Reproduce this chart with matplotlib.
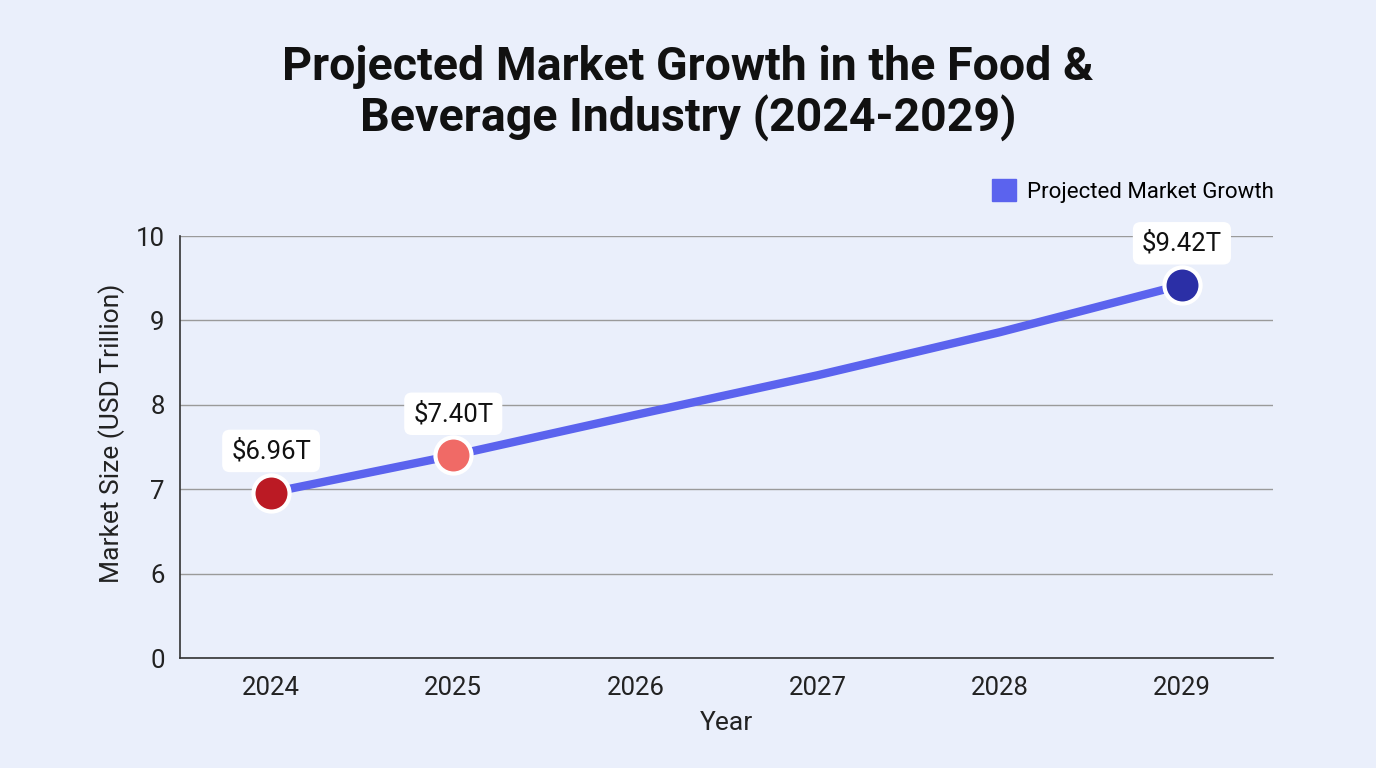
import matplotlib.pyplot as plt
import matplotlib.patches as mpatches

years = ['2024', '2025', '2026', '2027', '2028', '2029']
market_size = [6.96, 7.40, 7.88, 8.35, 8.86, 9.42]
labeled = {0: '$6.96T', 1: '$7.40T', 5: '$9.42T'}
marker_colors = {0: '#bb1a24', 1: '#f06a66', 5: '#2b2fa6'}
ytick_vals = [5, 6, 7, 8, 9, 10]
ytick_labels = ['0', '6', '7', '8', '9', '10']

plt.rcParams['font.family'] = ['Roboto', 'DejaVu Sans']

fig = plt.figure(figsize=(13.76, 7.68), dpi=100)
fig.patch.set_facecolor('#eaeffb')
ax = fig.add_axes([180 / 1376, 1 - 658 / 768, 1093 / 1376, 422 / 768])
ax.set_facecolor('#eaeffb')

x = list(range(len(years)))
ax.plot(x, market_size, color='#5b63ee', lw=6, solid_capstyle='round', zorder=3)
for i, lab in labeled.items():
    ax.plot(x[i], market_size[i], 'o', ms=26, mfc=marker_colors[i], mec='white', mew=3, zorder=4)
    ax.annotate(lab, (x[i], market_size[i]), xytext=(0, 30), textcoords='offset points',
                ha='center', va='center', fontsize=18.5, color='#111111', zorder=5,
                bbox=dict(boxstyle='round,pad=0.35,rounding_size=0.3', fc='white', ec='none'))

ax.set_xlim(-0.5, 5.5)
ax.set_ylim(5, 10)
ax.set_xticks(x)
ax.set_xticklabels(years, fontsize=18.5, color='#222222')
ax.set_yticks(ytick_vals)
ax.set_yticklabels(ytick_labels, fontsize=18.5, color='#222222')
ax.tick_params(axis='x', length=0, pad=13)
ax.tick_params(axis='y', length=0, pad=11)
ax.grid(axis='y', color='#9a9a9a', lw=1)
ax.set_axisbelow(True)
for s in ['top', 'right']:
    ax.spines[s].set_visible(False)
for s in ['left', 'bottom']:
    ax.spines[s].set_color('#333333')
    ax.spines[s].set_linewidth(1.2)

ax.set_xlabel('Year', fontsize=19, color='#222222', labelpad=8)
ax.set_ylabel('Market Size (USD Trillion)', fontsize=19, color='#222222')
ax.yaxis.set_label_coords(-0.05, 0.533)

fig.text(0.5, 1 - 93 / 768, 'Projected Market Growth in the Food &\nBeverage Industry (2024-2029)',
         ha='center', va='center', fontsize=33.5, fontweight='bold', color='#111111', linespacing=1.15)

handle = mpatches.Patch(color='#5b63ee', label='Projected Market Growth')
leg = fig.legend(handles=[handle], loc='center right', bbox_to_anchor=(1294 / 1376, 1 - 191 / 768),
                 frameon=False, fontsize=16, handlelength=1.1, handleheight=1.1, handletextpad=0.5)

fig.savefig('out.png', dpi=100, facecolor=fig.get_facecolor())
